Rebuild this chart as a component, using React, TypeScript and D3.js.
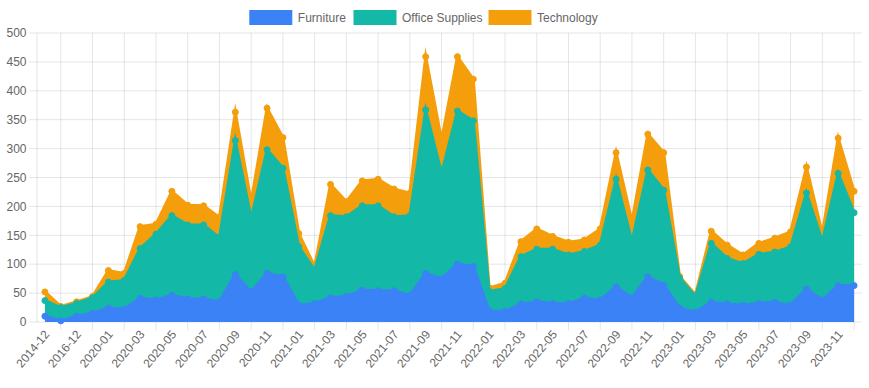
import React from 'react';
import * as d3 from 'd3';

// category labels (only every other one is shown on the axis)
const months = [
  '2014-12', '2015-12', '2016-12', '2019-12',
  '2020-01', '2020-02', '2020-03', '2020-04', '2020-05', '2020-06', '2020-07', '2020-08', '2020-09', '2020-10', '2020-11', '2020-12',
  '2021-01', '2021-02', '2021-03', '2021-04', '2021-05', '2021-06', '2021-07', '2021-08', '2021-09', '2021-10', '2021-11', '2021-12',
  '2022-01', '2022-02', '2022-03', '2022-04', '2022-05', '2022-06', '2022-07', '2022-08', '2022-09', '2022-10', '2022-11', '2022-12',
  '2023-01', '2023-02', '2023-03', '2023-04', '2023-05', '2023-06', '2023-07', '2023-08', '2023-09', '2023-10', '2023-11', '2023-12',
];

const furniture = [
  10, 2, 10, 15, 24, 22, 41, 38, 46, 40, 40, 35, 82, 52, 84, 78,
  29, 32, 42, 44, 55, 54, 54, 46, 84, 75, 100, 96,
  19, 18, 31, 35, 32, 32, 41, 38, 61, 42, 78, 64,
  24, 17, 34, 31, 29, 32, 34, 29, 57, 38, 63, 63,
];

const officeSupplies = [
  27, 23, 22, 27, 45, 50, 86, 114, 138, 128, 128, 111, 232, 127, 214, 188,
  101, 58, 142, 138, 146, 147, 128, 138, 283, 182, 265, 252,
  34, 40, 82, 91, 94, 84, 81, 95, 186, 97, 185, 164,
  52, 27, 102, 79, 72, 85, 87, 101, 166, 101, 194, 126,
];

const technology = [
  15, 2, 3, 2, 20, 12, 38, 17, 42, 34, 33, 35, 49, 29, 72, 53,
  23, 6, 54, 26, 43, 46, 48, 39, 92, 58, 94, 72,
  6, 9, 26, 35, 22, 22, 20, 28, 46, 35, 62, 65,
  3, 3, 21, 23, 15, 19, 24, 26, 45, 14, 61, 37,
];

const seriesNames = ['Furniture', 'Office Supplies', 'Technology'];
const seriesColors = ['#3b82f6', '#14b8a6', '#f59e0b'];
const yTicks = d3.range(0, 501, 50);

const W = 869;
const H = 388;
const left = 37;
const right = 862;
const top = 33;
const bottom = 322;
const font = "'Helvetica Neue', Helvetica, Arial, 'Liberation Sans', sans-serif";

export default function App() {
  const rows = months.map((m, i) => ({
    month: m,
    Furniture: furniture[i],
    'Office Supplies': officeSupplies[i],
    Technology: technology[i],
  }));

  const stacked = d3.stack<any>().keys(seriesNames)(rows);

  const x = d3.scalePoint<string>().domain(months).range([left, right]).padding(0.5);
  const y = d3.scaleLinear().domain([0, 500]).range([bottom, top]);

  const area = d3
    .area<any>()
    .x((d) => x(d.data.month)!)
    .y0((d) => y(d[0]))
    .y1((d) => y(d[1]));

  const line = d3
    .line<any>()
    .x((d) => x(d.data.month)!)
    .y((d) => y(d[1]));

  const shownLabels = months.filter((_, i) => i % 2 === 0);
  const gridMonths = months.filter((_, i) => i % 2 === 1);

  // legend layout
  const legendBoxX = [250.8, 355, 490];

  return (
    <div style={{ position: 'fixed', left: 0, top: 0 }}>
      <svg width={W} height={H} style={{ display: 'block', fontFamily: font }}>
        <rect width={W} height={H} fill="#fff" />

        {/* horizontal grid */}
        {yTicks.map((t) => (
          <line key={'h' + t} x1={left - 8} x2={right} y1={y(t)} y2={y(t)} stroke="rgba(0,0,0,0.1)" />
        ))}
        {/* vertical grid */}
        {gridMonths.map((m) => (
          <line key={'v' + m} x1={x(m)} x2={x(m)} y1={top} y2={bottom + 8} stroke="rgba(0,0,0,0.1)" />
        ))}
        <line x1={left} x2={left} y1={top} y2={bottom} stroke="rgba(0,0,0,0.1)" />

        {/* stacked areas, drawn top series first */}
        {[2, 1, 0].map((si) => {
          const s = stacked[si];
          const c = seriesColors[si];
          return (
            <g key={seriesNames[si]}>
              <path d={area(s) || ''} fill={c} />
              <path
                d={line(s) || ''}
                fill="none"
                stroke={c}
                strokeWidth={3}
                strokeLinejoin="miter"
                strokeMiterlimit={10}
              />
              {s.map((d: any, i: number) => (
                <circle key={i} cx={x(d.data.month)} cy={y(d[1])} r={3} fill={c} stroke={c} strokeWidth={1} />
              ))}
            </g>
          );
        })}

        {/* y axis labels */}
        {yTicks.map((t) => (
          <text key={'yl' + t} x={26.5} y={y(t)} dy="0.35em" textAnchor="end" fontSize={12} fill="#666">
            {t}
          </text>
        ))}

        {/* x axis labels */}
        {shownLabels.map((m) => (
          <text
            key={'xl' + m}
            transform={`translate(${x(m)! + 2},${bottom + 10}) rotate(-50)`}
            dy="0.35em"
            textAnchor="end"
            fontSize={12}
            fill="#666"
          >
            {m}
          </text>
        ))}

        {/* legend */}
        {seriesNames.map((n, i) => (
          <g key={'lg' + n}>
            <rect x={legendBoxX[i]} y={11.5} width={40} height={12} fill={seriesColors[i]} stroke={seriesColors[i]} strokeWidth={3} />
            <text x={legendBoxX[i] + 47} y={17.5} dy="0.35em" fontSize={12} fill="#666">
              {n}
            </text>
          </g>
        ))}
      </svg>
    </div>
  );
}
